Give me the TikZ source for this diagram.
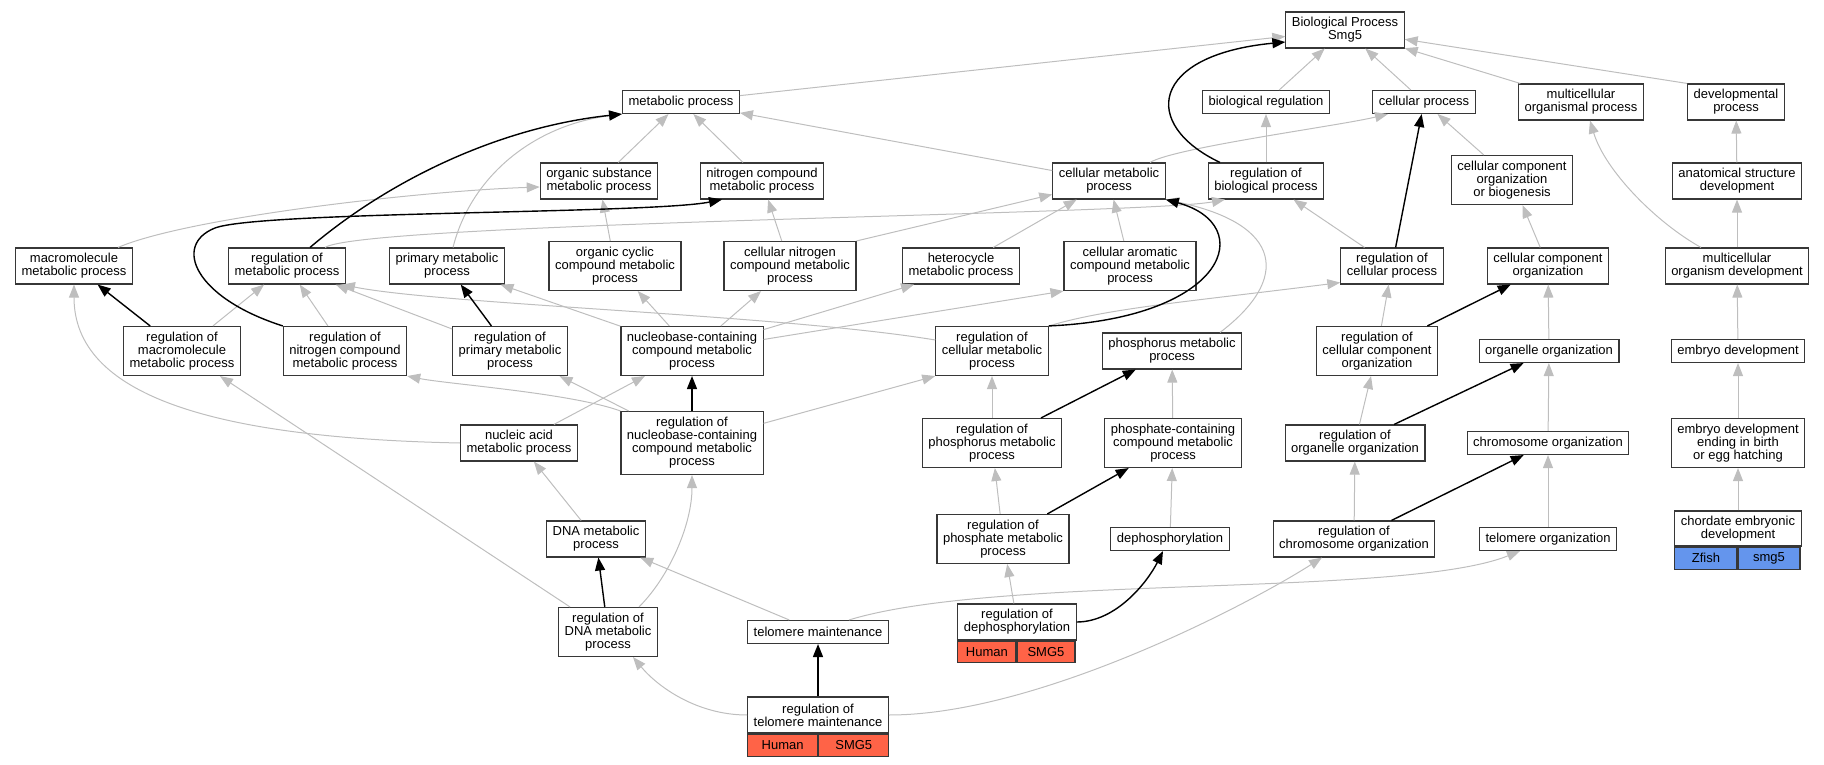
\documentclass[tikz,border=0pt]{standalone}
\usepackage{fontspec}
\setmainfont{Liberation Sans}
\usetikzlibrary{arrows.meta,positioning}
\definecolor{edgegray}{RGB}{190,190,190}
\definecolor{boxline}{RGB}{55,55,55}
\definecolor{human}{RGB}{255,99,71}
\definecolor{zfish}{RGB}{100,149,237}
\begin{document}
\begin{tikzpicture}[x=1pt,y=-1pt]
    % Define styles
    \tikzstyle{term}=[draw=boxline,line width=1.1pt,fill=white,rectangle,inner xsep=6pt,inner ysep=0pt,align=center,font=\fontsize{13}{13}\selectfont]
    \tikzstyle{oneline}=[term,minimum height=23pt]
    \tikzstyle{twoline}=[term,minimum height=36pt]
    \tikzstyle{threeline}=[term,minimum height=49pt]
    \tikzstyle{fourline}=[term,minimum height=63pt]
    \tikzstyle{cellbox}=[draw=boxline,line width=1.1pt,inner sep=0pt,minimum height=22pt,anchor=north west,font=\fontsize{13}{13}\selectfont]
    \tikzstyle{isa}=[draw=edgegray,line width=1pt,-{Triangle[length=13pt,width=10pt]}]
    \tikzstyle{reg}=[draw=black,line width=1.4pt,-{Triangle[length=13pt,width=10pt]}]

    \useasboundingbox (0,0) rectangle (1824,765);

    % Draw the nodes
    \node[twoline] (bp) at (1345,30) {Biological Process\\Smg5};

    \node[oneline] (metab) at (681,102) {metabolic process};
    \node[oneline] (bioreg) at (1266,102) {biological regulation};
    \node[oneline] (cellproc) at (1424,102) {cellular process};
    \node[twoline] (multiproc) at (1581,102) {multicellular\\organismal process};
    \node[twoline] (devproc) at (1736,102) {developmental\\process};

    \node[twoline] (orgsub) at (599,181) {organic substance\\metabolic process};
    \node[twoline] (nitro) at (762,181) {nitrogen compound\\metabolic process};
    \node[twoline] (cellmetab) at (1109,181) {cellular metabolic\\process};
    \node[twoline] (regbio) at (1266,181) {regulation of\\biological process};
    \node[threeline] (ccob) at (1512,180) {cellular component\\organization\\or biogenesis};
    \node[twoline] (anat) at (1737,181) {anatomical structure\\development};

    \node[twoline] (macro) at (74,266) {macromolecule\\metabolic process};
    \node[twoline] (regmetab) at (287,266) {regulation of\\metabolic process};
    \node[twoline] (primary) at (447,266) {primary metabolic\\process};
    \node[threeline] (orgcyc) at (615,266) {organic cyclic\\compound metabolic\\process};
    \node[threeline] (cellnitro) at (790,266) {cellular nitrogen\\compound metabolic\\process};
    \node[twoline] (hetero) at (961,266) {heterocycle\\metabolic process};
    \node[threeline] (cellarom) at (1130,266) {cellular aromatic\\compound metabolic\\process};
    \node[twoline] (regcell) at (1392,266) {regulation of\\cellular process};
    \node[twoline] (cco) at (1548,266) {cellular component\\organization};
    \node[twoline] (multidev) at (1737,266) {multicellular\\organism development};

    \node[threeline] (regmacro) at (182,351) {regulation of\\macromolecule\\metabolic process};
    \node[threeline] (regnitro) at (345,351) {regulation of\\nitrogen compound\\metabolic process};
    \node[threeline] (regprim) at (510,351) {regulation of\\primary metabolic\\process};
    \node[threeline] (nucleo) at (692,351) {nucleobase-containing\\compound metabolic\\process};
    \node[threeline] (regcellmetab) at (992,351) {regulation of\\cellular metabolic\\process};
    \node[twoline] (phosphorus) at (1172,351) {phosphorus metabolic\\process};
    \node[threeline] (regcco) at (1377,351) {regulation of\\cellular component\\organization};
    \node[oneline] (organelle) at (1549,351) {organelle organization};
    \node[oneline] (embryo) at (1738,351) {embryo development};

    \node[twoline] (nucacid) at (519,443) {nucleic acid\\metabolic process};
    \node[fourline] (regnucleo) at (692,443) {regulation of\\nucleobase-containing\\compound metabolic\\process};
    \node[threeline] (regphosphorus) at (992,443) {regulation of\\phosphorus metabolic\\process};
    \node[threeline] (phosphate) at (1173,443) {phosphate-containing\\compound metabolic\\process};
    \node[twoline] (regorganelle) at (1355,443) {regulation of\\organelle organization};
    \node[oneline] (chromo) at (1548,443) {chromosome organization};
    \node[threeline] (embryobirth) at (1738,443) {embryo development\\ending in birth\\or egg hatching};

    \node[twoline] (dna) at (596,539) {DNA metabolic\\process};
    \node[threeline] (regphosphate) at (1003,539) {regulation of\\phosphate metabolic\\process};
    \node[oneline] (dephos) at (1170,539) {dephosphorylation};
    \node[twoline] (regchromo) at (1354,539) {regulation of\\chromosome organization};
    \node[oneline] (telorg) at (1548,539) {telomere organization};

    \node[twoline,minimum height=35pt,minimum width=124pt] (chordate) at (1738,528.5) {chordate embryonic\\development};
    \node[cellbox,fill=zfish,minimum width=62pt] (chordate-sp) at (chordate.south west) {Zfish};
    \node[cellbox,fill=zfish,minimum width=62pt] (chordate-gene) at (chordate-sp.north east) {smg5};

    \node[threeline] (regdna) at (608,632) {regulation of\\DNA metabolic\\process};
    \node[oneline] (telmaint) at (818,632) {telomere maintenance};

    \node[twoline,minimum width=116pt] (regdephos) at (1017,622) {regulation of\\dephosphorylation};
    \node[cellbox,fill=human,minimum width=58pt,minimum height=21pt] (regdephos-sp) at (regdephos.south west) {Human};
    \node[cellbox,fill=human,minimum width=58pt,minimum height=21pt] (regdephos-gene) at (regdephos-sp.north east) {SMG5};

    \node[twoline,minimum width=140pt] (regtel) at (818,715) {regulation of\\telomere maintenance};
    \node[cellbox,fill=human,minimum width=70pt] (regtel-sp) at (regtel.south west) {Human};
    \node[cellbox,fill=human,minimum width=70pt] (regtel-gene) at (regtel-sp.north east) {SMG5};

    % Draw the is_a edges
    \draw[isa] (metab) -- (bp);
    \draw[isa] (bioreg) -- (bp);
    \draw[isa] (cellproc) -- (bp);
    \draw[isa] (multiproc) -- (bp);
    \draw[isa] (devproc.north west) -- (bp);
    \draw[isa] (regbio) -- (bioreg);
    \draw[isa] (cellmetab) -- (metab);
    \draw[isa] (orgsub) -- (metab);
    \draw[isa] (nitro) -- (metab);
    \draw[isa] ([xshift=6pt]primary.north) .. controls +(17,-68) and +(-92,12) .. (metab.south west);
    \draw[isa] ([xshift=44pt]macro.north) .. controls +(70,-30) and +(-120,4) .. ([yshift=-6pt]orgsub.west);
    \draw[isa] (orgcyc) -- (orgsub);
    \draw[isa] (cellnitro) -- (nitro);
    \draw[isa] (cellnitro.north east) -- (cellmetab);
    \draw[isa] (hetero) -- (cellmetab);
    \draw[isa] (cellarom) -- (cellmetab);
    \draw[isa] ([xshift=48pt]phosphorus.north) .. controls +(70,-53) and +(118,25) .. (cellmetab.south east);
    \draw[isa] ([xshift=41pt]cellmetab.north) .. controls +(25,-15) and +(-50,12) .. ([xshift=-36pt]cellproc.south);
    \draw[isa] (ccob) -- (cellproc);
    \draw[isa] (regcell) -- (regbio);
    \draw[isa] ([xshift=38pt]regmetab.north) .. controls +(40,-25) and +(-80,15) .. ([xshift=-41pt]regbio.south);
    \draw[isa] (regmacro) -- (regmetab);
    \draw[isa] (regnitro) -- (regmetab);
    \draw[isa] (regprim) -- (regmetab);
    \draw[isa] ([yshift=11pt]regcellmetab.west) .. controls +(-150,-25) and +(100,20) .. ([xshift=-4pt]regmetab.south east);
    \draw[isa] (nucleo) -- (primary);
    \draw[isa] (nucleo) -- (orgcyc);
    \draw[isa] (nucleo) -- (cellnitro);
    \draw[isa] (nucleo) -- ([xshift=12pt]hetero.south west);
    \draw[isa] (nucleo) -- (cellarom.south west);
    \draw[isa] (nucacid) -- (nucleo);
    \draw[isa] (nucacid.west) .. controls +(-250,-5) and +(0,110) .. (macro.south);
    \draw[isa] (dna) -- (nucacid);
    \draw[isa] (telmaint) -- (dna);
    \draw[isa] ([xshift=31pt]telmaint.north) .. controls +(151,-46) and +(-118,47) .. ([xshift=-28pt]telorg.south);
    \draw[isa] (regtel.west) .. controls +(-50,0) and +(25,30) .. ([xshift=25pt]regdna.south);
    \draw[isa] (regtel.east) .. controls +(150,0) and +(-70,45) .. ([xshift=-32pt]regchromo.south);
    \draw[isa] (regdna) -- (regmacro);
    \draw[isa] ([xshift=31pt]regdna.north) .. controls +(30,-30) and +(0,50) .. (regnucleo.south);
    \draw[isa] (regnucleo) -- (regprim);
    \draw[isa] (regnucleo.north west) .. controls +(-50,-18) and +(40,8) .. (regnitro.south east);
    \draw[isa] (regnucleo) -- (regcellmetab.south west);
    \draw[isa] (regcellmetab.north east) .. controls +(60,-18) and +(-150,19) .. ([yshift=2pt]regcell.south west);
    \draw[isa] (regphosphorus) -- (regcellmetab);
    \draw[isa] (phosphate) -- (phosphorus);
    \draw[isa] (regphosphate) -- (regphosphorus);
    \draw[isa] (dephos) -- (phosphate);
    \draw[isa] (regdephos) -- (regphosphate);
    \draw[isa] (regchromo) -- (regorganelle);
    \draw[isa] (telorg) -- (chromo);
    \draw[isa] (chromo) -- (organelle);
    \draw[isa] (regorganelle) -- (regcco);
    \draw[isa] (organelle) -- (cco);
    \draw[isa] (regcco) -- (regcell);
    \draw[isa] (cco) -- (ccob);
    \draw[isa] ([xshift=-36pt]multidev.north) .. controls +(-45,-25) and +(15,50) .. ([xshift=9pt]multiproc.south);
    \draw[isa] (multidev) -- (anat);
    \draw[isa] (anat) -- (devproc);
    \draw[isa] (embryo) -- (multidev);
    \draw[isa] (embryobirth) -- (embryo);
    \draw[isa] (chordate) -- (embryobirth);

    % Draw the regulates edges
    \draw[reg] ([xshift=-46pt]regbio.north) .. controls +(-80,-38) and +(-135,13) .. ([yshift=-12pt]bp.west);
    \draw[reg] ([xshift=23pt]regmetab.north) .. controls +(80,-68) and +(-122,13) .. (metab.south west);
    \draw[reg] (regnitro.north west) .. controls (195,298) and (172,245) .. (215,228)
        .. controls (260,211) and (650,214) .. ([xshift=-40pt]nitro.south);
    \draw[reg] (regmacro) -- (macro);
    \draw[reg] (regprim) -- (primary);
    \draw[reg] (regnucleo) -- (nucleo);
    \draw[reg] (regcellmetab.north east) .. controls +(180,-8) and +(92,25) .. (cellmetab.south east);
    \draw[reg] (regphosphorus) -- (phosphorus);
    \draw[reg] (regphosphate) -- (phosphate);
    \draw[reg] (regdephos.east) .. controls +(40,0) and +(-15,30) .. ([xshift=-7pt]dephos.south);
    \draw[reg] (regdna) -- (dna);
    \draw[reg] (regtel) -- (telmaint);
    \draw[reg] (regchromo) -- (chromo);
    \draw[reg] (regorganelle) -- (organelle);
    \draw[reg] (regcco) -- (cco);
    \draw[reg] (regcell) -- (cellproc);
\end{tikzpicture}
\end{document}
